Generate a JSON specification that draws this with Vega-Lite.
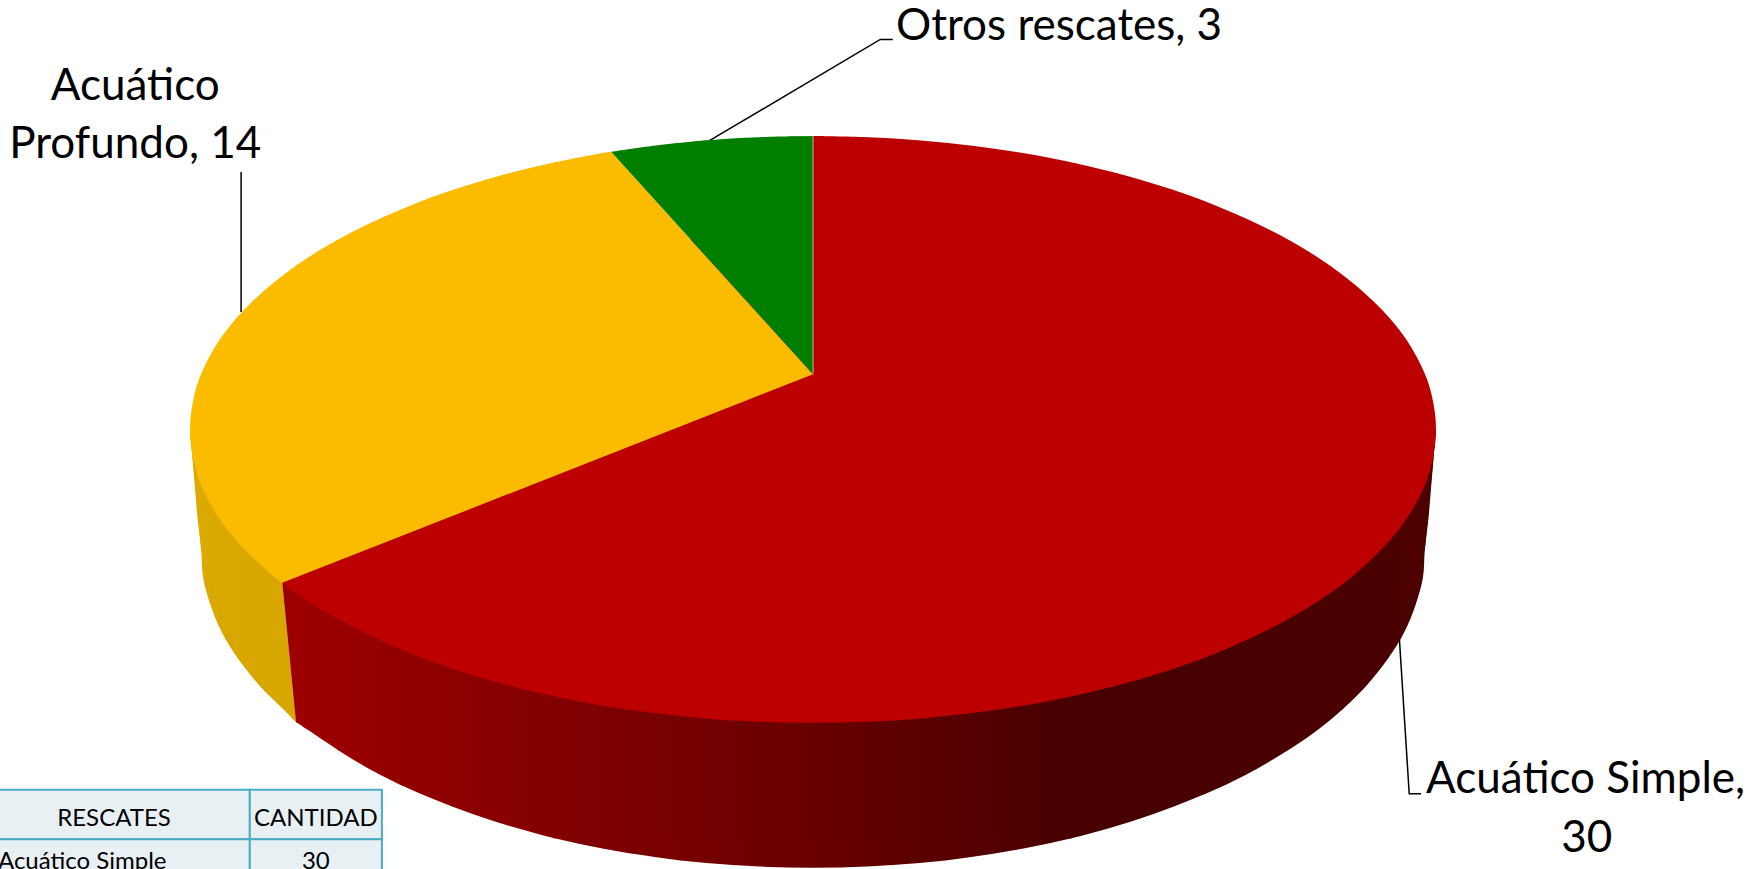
{"$schema":"https://vega.github.io/schema/vega-lite/v6.json","width":1752,"height":869,"padding":0,"autosize":{"type":"none"},"background":"#ffffff","config":{"view":{"stroke":null}},
"datasets":{
"ladoAmarilloBase":[{"n":1,"x":-50,"y":0},{"n":2,"x":-100,"y":0},{"n":3,"x":-98.2,"y":-41.1},{"n":4,"x":-92.3,"y":-78.1},{"n":5,"x":-83,"y":-99.7},{"n":6,"x":-85.2,"y":-52.3}],
"ladoAmarilloArco":[{"n":1,"x":-100,"y":0},{"n":1.2,"x":-99.6,"y":-10},{"n":1.4,"x":-99.2,"y":-20},{"n":1.6,"x":-98.8,"y":-30},{"n":2,"x":-98.2,"y":-41.1},{"n":3,"x":-97.9,"y":-50.5},{"n":4,"x":-96.7,"y":-59.9},{"n":5,"x":-94.9,"y":-69.1},{"n":6,"x":-92.3,"y":-78.1},{"n":7,"x":-89,"y":-86.9},{"n":8,"x":-85.1,"y":-95.2},{"n":9,"x":-83,"y":-99.7}],
"ladoRojoBase":[{"n":1,"x":-85.2,"y":-52.3},{"n":2,"x":0,"y":0},{"n":3,"x":100,"y":0},{"n":4,"x":98.2,"y":-41.1},{"n":5,"x":85.1,"y":-95.2},{"n":6,"x":41.5,"y":-139.3},{"n":7,"x":-41.5,"y":-139.3},{"n":8,"x":-83,"y":-99.7}],
"ladoRojoArco":[{"n":1,"x":100,"y":0},{"n":1.2,"x":99.6,"y":-10},{"n":1.4,"x":99.2,"y":-20},{"n":1.6,"x":98.8,"y":-30},{"n":2,"x":98.2,"y":-41.1},{"n":3,"x":97.9,"y":-50.5},{"n":4,"x":96.7,"y":-59.9},{"n":5,"x":94.9,"y":-69.1},{"n":6,"x":92.3,"y":-78.1},{"n":7,"x":89,"y":-86.9},{"n":8,"x":85.1,"y":-95.2},{"n":9,"x":80.5,"y":-103.2},{"n":10,"x":75.2,"y":-110.7},{"n":11,"x":69.5,"y":-117.7},{"n":12,"x":63.1,"y":-124.1},{"n":13,"x":56.3,"y":-129.8},{"n":14,"x":49.1,"y":-134.9},{"n":15,"x":41.5,"y":-139.3},{"n":16,"x":33.6,"y":-142.9},{"n":17,"x":25.4,"y":-145.7},{"n":18,"x":17.1,"y":-147.8},{"n":19,"x":8.6,"y":-149},{"n":20,"x":0,"y":-149.4},{"n":21,"x":-8.6,"y":-149},{"n":22,"x":-17.1,"y":-147.8},{"n":23,"x":-25.4,"y":-145.7},{"n":24,"x":-33.6,"y":-142.9},{"n":25,"x":-41.5,"y":-139.3},{"n":26,"x":-49.1,"y":-134.9},{"n":27,"x":-56.3,"y":-129.8},{"n":28,"x":-63.1,"y":-124.1},{"n":29,"x":-69.5,"y":-117.7},{"n":30,"x":-75.2,"y":-110.7},{"n":31,"x":-80.5,"y":-103.2},{"n":32,"x":-83,"y":-99.7}],
"rojoArco":[{"n":2,"x":0,"y":100},{"n":3,"x":8.7,"y":99.6},{"n":4,"x":17.4,"y":98.5},{"n":5,"x":25.9,"y":96.6},{"n":6,"x":34.2,"y":94},{"n":7,"x":42.3,"y":90.6},{"n":8,"x":50,"y":86.6},{"n":9,"x":57.4,"y":81.9},{"n":10,"x":64.3,"y":76.6},{"n":11,"x":70.7,"y":70.7},{"n":12,"x":76.6,"y":64.3},{"n":13,"x":81.9,"y":57.4},{"n":14,"x":86.6,"y":50},{"n":15,"x":90.6,"y":42.3},{"n":16,"x":94,"y":34.2},{"n":17,"x":96.6,"y":25.9},{"n":18,"x":98.5,"y":17.4},{"n":19,"x":99.6,"y":8.7},{"n":20,"x":100,"y":0},{"n":21,"x":99.6,"y":-8.7},{"n":22,"x":98.5,"y":-17.4},{"n":23,"x":96.6,"y":-25.9},{"n":24,"x":94,"y":-34.2},{"n":25,"x":90.6,"y":-42.3},{"n":26,"x":86.6,"y":-50},{"n":27,"x":81.9,"y":-57.4},{"n":28,"x":76.6,"y":-64.3},{"n":29,"x":70.7,"y":-70.7},{"n":30,"x":64.3,"y":-76.6},{"n":31,"x":57.4,"y":-81.9},{"n":32,"x":50,"y":-86.6},{"n":33,"x":42.3,"y":-90.6},{"n":34,"x":34.2,"y":-94},{"n":35,"x":25.9,"y":-96.6},{"n":36,"x":17.4,"y":-98.5},{"n":37,"x":8.7,"y":-99.6},{"n":38,"x":0,"y":-100},{"n":39,"x":-8.7,"y":-99.6},{"n":40,"x":-17.4,"y":-98.5},{"n":41,"x":-25.9,"y":-96.6},{"n":42,"x":-34.2,"y":-94},{"n":43,"x":-42.3,"y":-90.6},{"n":44,"x":-50,"y":-86.6},{"n":45,"x":-57.4,"y":-81.9},{"n":46,"x":-64.3,"y":-76.6},{"n":47,"x":-70.7,"y":-70.7},{"n":48,"x":-76.6,"y":-64.3},{"n":49,"x":-81.9,"y":-57.4},{"n":50,"x":-85.2,"y":-52.3}],
"amarilloArco":[{"n":2,"x":-85.2,"y":-52.3},{"n":3,"x":-86.6,"y":-50},{"n":4,"x":-90.6,"y":-42.3},{"n":5,"x":-94,"y":-34.2},{"n":6,"x":-96.6,"y":-25.9},{"n":7,"x":-98.5,"y":-17.4},{"n":8,"x":-99.6,"y":-8.7},{"n":9,"x":-100,"y":0},{"n":10,"x":-99.6,"y":8.7},{"n":11,"x":-98.5,"y":17.4},{"n":12,"x":-96.6,"y":25.9},{"n":13,"x":-94,"y":34.2},{"n":14,"x":-90.6,"y":42.3},{"n":15,"x":-86.6,"y":50},{"n":16,"x":-81.9,"y":57.4},{"n":17,"x":-76.6,"y":64.3},{"n":18,"x":-70.7,"y":70.7},{"n":19,"x":-64.3,"y":76.6},{"n":20,"x":-57.4,"y":81.9},{"n":21,"x":-50,"y":86.6},{"n":22,"x":-42.3,"y":90.6},{"n":23,"x":-34.2,"y":94},{"n":24,"x":-32.4,"y":94.6}],
"amarilloBase":[{"n":1,"x":0,"y":18.8},{"n":2,"x":-85.2,"y":-52.3},{"n":3,"x":-98.5,"y":-17.4},{"n":4,"x":-96.6,"y":25.9},{"n":5,"x":-76.6,"y":64.3},{"n":6,"x":-32.4,"y":94.6}],
"verdeArco":[{"n":2,"x":-32.4,"y":94.6},{"n":3,"x":-25.9,"y":96.6},{"n":4,"x":-17.4,"y":98.5},{"n":5,"x":-8.7,"y":99.6},{"n":6,"x":0,"y":100}],
"verdeBase":[{"n":1,"x":0,"y":18.8},{"n":2,"x":-32.4,"y":94.6},{"n":3,"x":-17.4,"y":98.5},{"n":4,"x":0,"y":100}],
"junta":[{"n":1,"x":0,"y":18.8},{"n":2,"x":0,"y":100}],
"guias":[{"g":"Otros rescates","n":1,"x":-16.7,"y":98.3},{"g":"Otros rescates","n":2,"x":10.8,"y":132.9},{"g":"Otros rescates","n":3,"x":12.8,"y":132.9},{"g":"Acuático Profundo","n":1,"x":-91.8,"y":40},{"g":"Acuático Profundo","n":2,"x":-91.8,"y":87.7},{"g":"Acuático Simple","n":1,"x":94.1,"y":-70.7},{"g":"Acuático Simple","n":2,"x":95.7,"y":-124.2},{"g":"Acuático Simple","n":3,"x":97.6,"y":-124.2}],
"celdas":[{"x":-135,"x2":-90.4,"y":-122.8,"y2":-139.7},{"x":-90.4,"x2":-69.2,"y":-122.8,"y2":-139.7},{"x":-135,"x2":-90.4,"y":-139.7,"y2":-157},{"x":-90.4,"x2":-69.2,"y":-139.7,"y2":-157}],
"tabla":[{"t":"RESCATES","x":-112.2,"y":-135.2},{"t":"CANTIDAD","x":-79.8,"y":-135.2},{"t":"Acuático Simple","x":-117.3,"y":-149.7},{"t":"30","x":-79.8,"y":-149.7}],
"etiquetas":[{"t":"Otros rescates, 3","x":39.5,"y":132.7},{"t":"Acuático","x":-108.8,"y":112.3},{"t":"Profundo, 14","x":-108.8,"y":92.5},{"t":"Acuático Simple,","x":124,"y":-123.9},{"t":"30","x":124.2,"y":-143.9}]
},
"encoding":{"x":{"field":"x","type":"quantitative","scale":{"domain":[-130.5,150.72],"nice":false,"zero":false},"axis":null},"y":{"field":"y","type":"quantitative","scale":{"domain":[-149.81,146.34],"nice":false,"zero":false},"axis":null}},
"layer":[
{"data":{"name":"guias"},"mark":{"type":"line","stroke":"#000000","strokeWidth":1.5},"encoding":{"detail":{"field":"g"},"order":{"field":"n"}}},
{"data":{"name":"ladoAmarilloArco"},"mark":{"type":"line","interpolate":"cardinal","stroke":null,"fill":{"gradient":"linear","x1":0,"y1":0,"x2":1,"y2":0,"stops":[{"offset":0,"color":"#dcaa00"},{"offset":1,"color":"#cd9e00"}]}},"encoding":{"order":{"field":"n"}}},
{"data":{"name":"ladoAmarilloBase"},"mark":{"type":"line","stroke":null,"fill":{"gradient":"linear","x1":0,"y1":0,"x2":1,"y2":0,"stops":[{"offset":0,"color":"#dcaa00"},{"offset":1,"color":"#cd9e00"}]}},"encoding":{"order":{"field":"n"}}},
{"data":{"name":"ladoRojoArco"},"mark":{"type":"line","interpolate":"cardinal","stroke":null,"fill":{"gradient":"linear","x1":0,"y1":0,"x2":1,"y2":0,"stops":[{"offset":0,"color":"#9e0000"},{"offset":0.2,"color":"#860000"},{"offset":0.45,"color":"#6a0000"},{"offset":0.69,"color":"#470000"},{"offset":1,"color":"#4c0000"}]}},"encoding":{"order":{"field":"n"}}},
{"data":{"name":"ladoRojoBase"},"mark":{"type":"line","stroke":null,"fill":{"gradient":"linear","x1":0,"y1":0,"x2":1,"y2":0,"stops":[{"offset":0,"color":"#9e0000"},{"offset":0.2,"color":"#860000"},{"offset":0.45,"color":"#6a0000"},{"offset":0.69,"color":"#470000"},{"offset":1,"color":"#4c0000"}]}},"encoding":{"order":{"field":"n"}}},
{"data":{"name":"rojoArco"},"mark":{"type":"line","interpolate":"cardinal","stroke":null,"fill":"#bc0000"},"encoding":{"order":{"field":"n"}}},
{"data":{"name":"amarilloArco"},"mark":{"type":"line","interpolate":"cardinal","stroke":null,"fill":"#fbbc00"},"encoding":{"order":{"field":"n"}}},
{"data":{"name":"amarilloBase"},"mark":{"type":"line","stroke":null,"fill":"#fbbc00"},"encoding":{"order":{"field":"n"}}},
{"data":{"name":"verdeArco"},"mark":{"type":"line","interpolate":"cardinal","stroke":null,"fill":"#007e00"},"encoding":{"order":{"field":"n"}}},
{"data":{"name":"verdeBase"},"mark":{"type":"line","stroke":null,"fill":"#007e00"},"encoding":{"order":{"field":"n"}}},
{"data":{"name":"junta"},"mark":{"type":"line","stroke":"#c9b0a0","strokeWidth":1},"encoding":{"order":{"field":"n"}}},
{"data":{"name":"celdas"},"mark":{"type":"rect","clip":true,"fill":"#e9f0f4","stroke":"#4bacc6","strokeWidth":2},"encoding":{"x2":{"field":"x2"},"y2":{"field":"y2"}}},
{"data":{"name":"tabla"},"mark":{"type":"text","font":"Lato","fontSize":24,"align":"center","baseline":"alphabetic","color":"#000000"},"encoding":{"text":{"field":"t"}}},
{"data":{"name":"etiquetas"},"mark":{"type":"text","font":"Lato","fontSize":44,"align":"center","baseline":"alphabetic","color":"#000000"},"encoding":{"text":{"field":"t"}}}
]}
